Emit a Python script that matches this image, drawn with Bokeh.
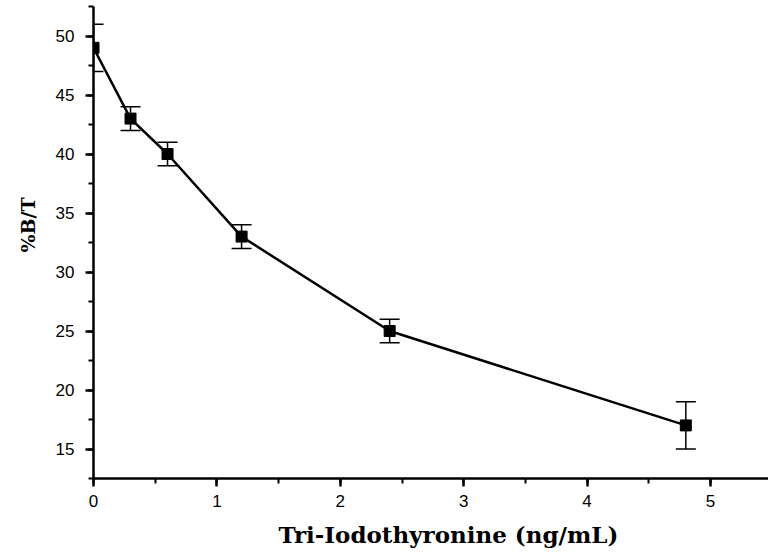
from bokeh.plotting import figure
from bokeh.models import ColumnDataSource, Whisker, TeeHead, SingleIntervalTicker, Range1d, Title
from bokeh.embed import file_html
from bokeh.resources import INLINE

# Data
conc = [0.0, 0.3, 0.6, 1.2, 2.4, 4.8]          # Tri-Iodothyronine (ng/mL)
bt = [49.0, 43.0, 40.0, 33.0, 25.0, 17.0]       # %B/T
err = [2.0, 1.0, 1.0, 1.0, 1.0, 2.0]            # error bar half-widths
x_title = "Tri-Iodothyronine (ng/mL)"
y_title = "%B/T"

src = ColumnDataSource(dict(
    x=conc, y=bt,
    upper=[v + e for v, e in zip(bt, err)],
    lower=[v - e for v, e in zip(bt, err)],
))

p = figure(width=768, height=557, output_backend="svg", toolbar_location=None,
           x_range=Range1d(0, 5.47), y_range=Range1d(12.5, 52.5),
           min_border_left=93, min_border_right=0, min_border_top=6, min_border_bottom=79)
p.outline_line_color = None
p.xgrid.grid_line_color = None
p.ygrid.grid_line_color = None
p.background_fill_color = "white"
p.border_fill_color = "white"

p.xaxis.ticker = SingleIntervalTicker(interval=1, num_minor_ticks=2)
p.yaxis.ticker = SingleIntervalTicker(interval=5, num_minor_ticks=2)

for ax in (p.xaxis[0], p.yaxis[0]):
    ax.axis_line_width = 2.5
    ax.axis_line_color = "black"
    ax.major_tick_line_width = 2.5
    ax.minor_tick_line_width = 2
    ax.major_tick_line_color = "black"
    ax.minor_tick_line_color = "black"
    ax.major_tick_out = 8
    ax.major_tick_in = 0
    ax.minor_tick_out = 5
    ax.minor_tick_in = 0
    ax.major_label_text_font = "Liberation Sans"
    ax.major_label_text_font_size = "17px"
    ax.major_label_text_color = "black"

p.xaxis.major_label_standoff = 8
p.yaxis.major_label_standoff = 11

# axis titles as side titles (offset lets them sit off-centre like the reference)
p.add_layout(Title(text=x_title, align="left", offset=185, standoff=19,
                   text_font="DejaVu Serif", text_font_style="bold",
                   text_font_size="23px", text_color="black"), "below")
p.add_layout(Title(text=y_title, align="left", offset=226, standoff=28,
                   text_font="DejaVu Serif", text_font_style="bold",
                   text_font_size="19px", text_color="black"), "left")

p.line("x", "y", source=src, line_color="black", line_width=2.5)
p.add_layout(Whisker(base="x", upper="upper", lower="lower", source=src,
                     line_color="black", line_width=1.5,
                     upper_head=TeeHead(size=20, line_color="black", line_width=1.5),
                     lower_head=TeeHead(size=20, line_color="black", line_width=1.5)))
p.scatter("x", "y", source=src, marker="square", size=11,
          fill_color="black", line_color="black")

open("out.html", "w").write(file_html(p, INLINE))
